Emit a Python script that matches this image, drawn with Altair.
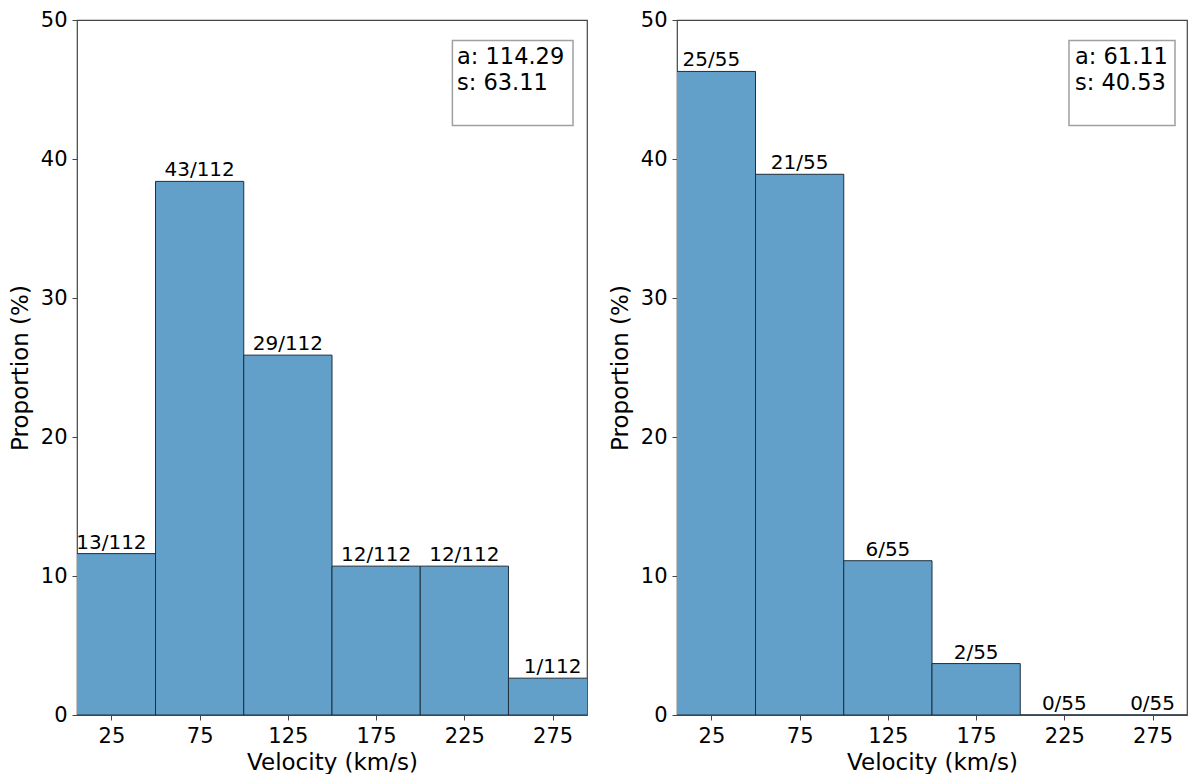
import altair as alt
import pandas as pd

bin_centers = [25, 75, 125, 175, 225, 275]
bin_width = 50

left_values = [11.61, 38.39, 25.89, 10.71, 10.71, 2.65]
left_labels = ["13/112", "43/112", "29/112", "12/112", "12/112", "1/112"]
left_stats = ["a: 114.29", "s: 63.11"]

right_values = [46.3, 38.9, 11.1, 3.7, 0.0, 0.0]
right_labels = ["25/55", "21/55", "6/55", "2/55", "0/55", "0/55"]
right_stats = ["a: 61.11", "s: 40.53"]

x_ticks = [25, 75, 125, 175, 225, 275]
y_ticks = [0, 10, 20, 30, 40, 50]
x_domain = [5.5, 294.5]
y_domain = [0, 50]

FONT = "DejaVu Sans"
W, H = 510, 695


def panel(values, labels, stats, box_x0, box_x1, text_x):
    df = pd.DataFrame({"center": bin_centers, "value": values, "label": labels})
    df["lo"] = df["center"] - bin_width / 2
    df["hi"] = df["center"] + bin_width / 2
    base = alt.Chart(df)
    xs = alt.Scale(domain=x_domain, nice=False, zero=False)
    ys = alt.Scale(domain=y_domain, nice=False)
    bars = base.mark_rect(fill="#62a0ca", stroke="#1e2f3c", strokeWidth=1, clip=True).encode(
        x=alt.X("lo:Q", scale=xs, axis=alt.Axis(values=x_ticks, title="Velocity (km/s)")),
        x2="hi:Q",
        y=alt.Y("value:Q", scale=ys, axis=alt.Axis(values=y_ticks, title="Proportion (%)")),
        y2=alt.datum(0),
    )
    txt = base.mark_text(baseline="alphabetic", dy=-5, fontSize=20, font=FONT, color="black").encode(
        x=alt.X("center:Q", scale=xs),
        y=alt.Y("value:Q", scale=ys),
        text="label:N",
    )
    sdf = pd.DataFrame({"t": ["\n".join(stats)]})
    box = alt.Chart(sdf).mark_rect(fill="white", stroke="#a0a0a0", strokeWidth=1.5).encode(
        x=alt.value(box_x0), x2=alt.value(box_x1), y=alt.value(20.4), y2=alt.value(105.4)
    )
    stxt = alt.Chart(sdf).mark_text(
        align="left", baseline="alphabetic", fontSize=22.5, font=FONT, color="black",
        lineBreak="\n", lineHeight=26.5,
    ).encode(x=alt.value(text_x), y=alt.value(43.7), text="t:N")
    return alt.layer(bars, txt, box, stxt).properties(width=W, height=H)


left = panel(left_values, left_labels, left_stats, 375.4, 496, 380)
right = panel(right_values, right_labels, right_stats, 392, 498, 398)

chart = (
    alt.hconcat(left, right, spacing=20)
    .properties(padding={"left": 0, "top": 0, "right": 0, "bottom": 0})
    .configure_view(stroke="#444", strokeWidth=1.2)
    .configure_axis(
        labelFont=FONT, titleFont=FONT, labelFontSize=21, titleFontSize=23,
        titleFontWeight="normal", labelColor="black", titleColor="black",
        tickColor="#444", tickSize=5, domain=False, grid=False, labelPadding=5,
    )
    .configure_axisY(titlePadding=8)
    .configure_axisX(titlePadding=5)
)

chart.save("out.html", embed_options={"renderer": "svg", "actions": False})
